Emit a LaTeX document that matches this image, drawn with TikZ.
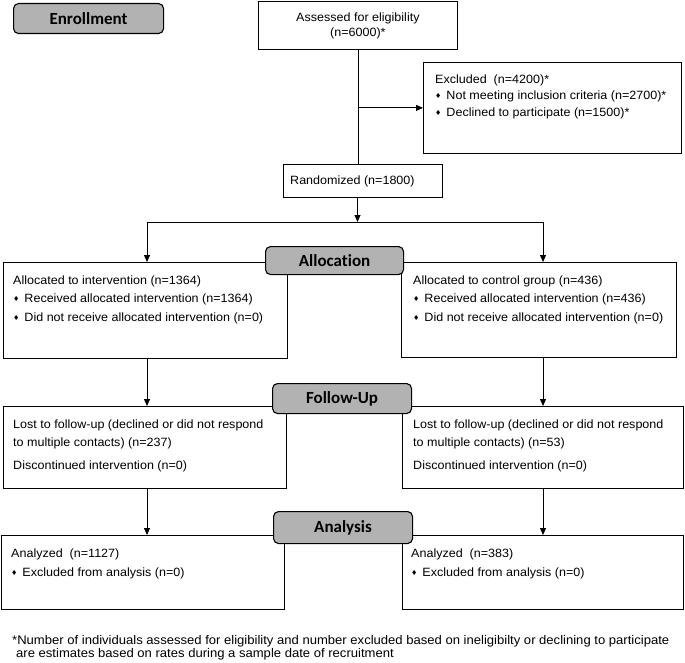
\documentclass[tikz,border=0pt]{standalone}
\usepackage{fontspec}
\setmainfont{Liberation Sans}[FakeStretch=1.045]
\newfontfamily\headfont{Carlito}[Ligatures=NoCommon]
\newfontfamily\symfont{DejaVu Sans}
\usetikzlibrary{arrows.meta,calc}

\definecolor{headgray}{RGB}{178,178,178}

% small diamond bullet
\newcommand{\bul}{{\symfont\fontsize{7pt}{7pt}\selectfont\raisebox{1pt}{♦}}\hspace{5pt}}

\tikzset{
    box/.style={draw, line width=0.8pt, anchor=north west, inner sep=0pt},
    txt/.style={anchor=north west, align=left, inner sep=0pt, font=\fontsize{12pt}{18.5pt}\selectfont},
    head/.style={draw, line width=1.1pt, fill=headgray, rounded corners=5pt, anchor=north west,
        minimum width=139pt, minimum height=30pt, inner sep=0pt,
        font=\headfont\bfseries\fontsize{17pt}{17pt}\selectfont},
    conn/.style={line width=0.8pt},
    arr/.style={line width=0.8pt, -{Triangle[length=7pt,width=6pt]}}
}

\begin{document}
\begin{tikzpicture}[x=1pt, y=-1pt]

    \useasboundingbox (0,0) rectangle (685,663);

    %% Enrollment
    \node[box, minimum width=199pt, minimum height=48pt] (assess) at (258,1) {};
    \node[align=center, inner sep=0pt, font=\fontsize{12pt}{15pt}\selectfont] (assesstxt) at (assess.center)
        {Assessed for eligibility\\(n=6000)*};

    \node[box, minimum width=258pt, minimum height=91pt] (excl) at (423,62) {};
    \node[txt, font=\fontsize{12pt}{16.5pt}\selectfont] (excltxt) at ($(excl.north west)+(12,12.5)$)
        {Excluded\ \ (n=4200)*\\
         \bul Not meeting inclusion criteria (n=2700)*\\
         \bul Declined to participate (n=1500)*};

    \node[box, minimum width=159pt, minimum height=33pt] (rand) at (283,164) {};
    \node[txt, anchor=west] (randtxt) at ($(rand.west)+(7,0)$) {Randomized (n=1800)};

    %% Allocation
    \node[box, minimum width=284pt, minimum height=96pt] (allocL) at (3,262) {};
    \node[txt] (allocLtxt) at ($(allocL.north west)+(10,13.5)$)
        {Allocated to intervention (n=1364)\\
         \bul Received allocated intervention (n=1364)\\
         \bul Did not receive allocated intervention (n=0)};

    \node[box, minimum width=275pt, minimum height=95pt] (allocR) at (401,262) {};
    \node[txt] (allocRtxt) at ($(allocR.north west)+(12,13.5)$)
        {Allocated to control group (n=436)\\
         \bul Received allocated intervention (n=436)\\
         \bul Did not receive allocated intervention (n=0)};

    %% Follow-up
    \node[box, minimum width=283pt, minimum height=82pt] (fuL) at (3,406) {};
    \node[txt, font=\fontsize{12pt}{18pt}\selectfont] (fuLtxt) at ($(fuL.north west)+(10,14)$)
        {Lost to follow-up (declined or did not respond\\
         to multiple contacts) (n=237)\\[5pt]
         Discontinued intervention (n=0)};

    \node[box, minimum width=281pt, minimum height=82pt] (fuR) at (402,406) {};
    \node[txt, font=\fontsize{12pt}{18pt}\selectfont] (fuRtxt) at ($(fuR.north west)+(11,14)$)
        {Lost to follow-up (declined or did not respond\\
         to multiple contacts) (n=53)\\[5pt]
         Discontinued intervention (n=0)};

    %% Analysis
    \node[box, minimum width=283pt, minimum height=74pt] (anL) at (1,535) {};
    \node[txt, font=\fontsize{12pt}{19pt}\selectfont] (anLtxt) at ($(anL.north west)+(10,13.5)$)
        {Analyzed\ \ (n=1127)\\
         \bul Excluded from analysis (n=0)};

    \node[box, minimum width=281pt, minimum height=74pt] (anR) at (402,535) {};
    \node[txt, font=\fontsize{12pt}{19pt}\selectfont] (anRtxt) at ($(anR.north west)+(9,13.5)$)
        {Analyzed\ \ (n=383)\\
         \bul Excluded from analysis (n=0)};

    %% Phase labels
    \node[head, minimum width=150pt] (enroll) at (13,3) {Enrollment};
    \node[head, minimum width=138pt, minimum height=28pt] (alloc) at (265,246) {Allocation};
    \node[head] (follow) at (272,383) {Follow-Up};
    \node[head, minimum height=32pt] (analysis) at (273,511) {Analysis};

    %% Connectors
    \coordinate (split) at (357.5,222);
    \coordinate (splitL) at (147,222);
    \coordinate (splitR) at (543,222);

    \draw[conn] (assess.south) -- (assess.south |- rand.north);
    \draw[arr] (assess.south |- excl.west) -- (excl.west);
    \draw[arr] (split |- rand.south) -- (split);
    \draw[conn] (splitL) -- (splitR);
    \draw[arr] (splitL) -- (splitL |- allocL.north);
    \draw[arr] (splitR) -- (splitR |- allocR.north);
    \draw[arr] (splitL |- allocL.south) -- (splitL |- fuL.north);
    \draw[arr] (splitR |- allocR.south) -- (splitR |- fuR.north);
    \draw[arr] (splitL |- fuL.south) -- (splitL |- anL.north);
    \draw[arr] (splitR |- fuR.south) -- (splitR |- anR.north);

    % Footnote
    \node[txt, font=\fontsize{12.5pt}{13.5pt}\selectfont] (note) at (12,635)
        {*Number of individuals assessed for eligibility and number excluded based on ineligibilty or declining to participate\\
         \hspace{4pt}are estimates based on rates during a sample date of recruitment};

\end{tikzpicture}
\end{document}
